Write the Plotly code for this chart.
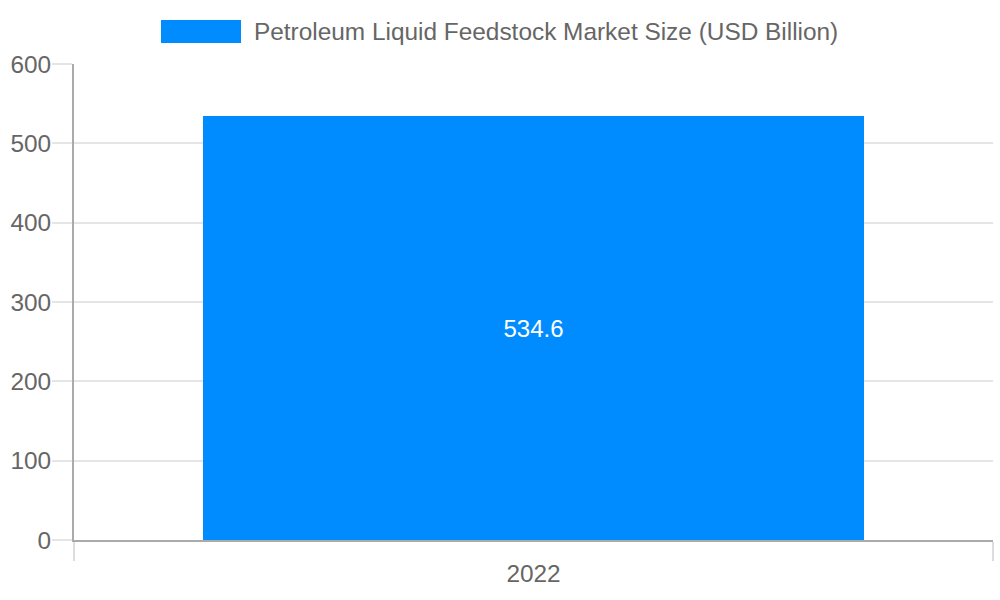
import plotly.graph_objects as go

# Dados
anos = ["2022"]
valores = [534.6]
serie = "Petroleum Liquid Feedstock Market Size (USD Billion)"
y_ticks = [0, 100, 200, 300, 400, 500, 600]

AZUL = "#008cff"
CINZA = "#666666"
FONTE = "Liberation Sans, Arial, sans-serif"

x_pos = list(range(len(anos)))

fig = go.Figure(go.Bar(
    x=x_pos,
    y=valores,
    width=0.72,
    marker=dict(color=AZUL, line=dict(width=0)),
    text=[f"{v:.1f}" for v in valores],
    textposition="inside",
    insidetextanchor="middle",
    textfont=dict(color="white", size=24, family=FONTE),
    showlegend=False,
    hoverinfo="skip",
))

# Legenda desenhada à mão (caixa larga como no Chart.js)
fig.add_shape(type="rect", xref="paper", yref="paper",
              x0=(161 - 74) / 919, x1=(241 - 74) / 919,
              y0=(540 - 43) / 476, y1=(540 - 20) / 476,
              fillcolor=AZUL, line=dict(width=0))
fig.add_annotation(text=serie, xref="paper", yref="paper",
                   x=(252 - 74) / 919, y=(540 - 31.5) / 476,
                   xanchor="left", yanchor="middle", showarrow=False,
                   font=dict(size=24.4, color=CINZA, family=FONTE))

fig.update_layout(
    width=1000, height=600,
    margin=dict(l=74, r=7, t=64, b=60),
    plot_bgcolor="white", paper_bgcolor="white",
    font=dict(family=FONTE, color=CINZA, size=24),
    xaxis=dict(
        range=[-0.5, len(anos) - 0.5],
        tickvals=x_pos, ticktext=anos,
        ticks="", showgrid=False, zeroline=False,
        showline=True, linecolor="#aaaaaa", linewidth=2,
        tickfont=dict(size=24.4, color=CINZA),
        ticklabelstandoff=11,
        automargin=False,
        minor=dict(tickvals=[-0.5, len(anos) - 0.5], ticks="outside", ticklen=19,
                   tickcolor="#dddddd", tickwidth=1.5,
                   showgrid=True, gridcolor="#e5e5e5", gridwidth=1.5),
    ),
    yaxis=dict(
        range=[0, 600], tickvals=y_ticks,
        ticks="outside", ticklen=20, tickcolor="#e5e5e5", tickwidth=2,
        showgrid=True, gridcolor="#e5e5e5", gridwidth=2,
        zeroline=False,
        showline=True, linecolor="#aaaaaa", linewidth=2,
        tickfont=dict(size=24.4, color=CINZA),
        ticklabelstandoff=-4,
        automargin=False,
    ),
    bargap=0,
)

# tira a margem padrão do <body> para o gráfico encostar no canto da janela
fig.write_html("out.html", config={"displayModeBar": False},
               post_script="document.body.style.margin='0';")
